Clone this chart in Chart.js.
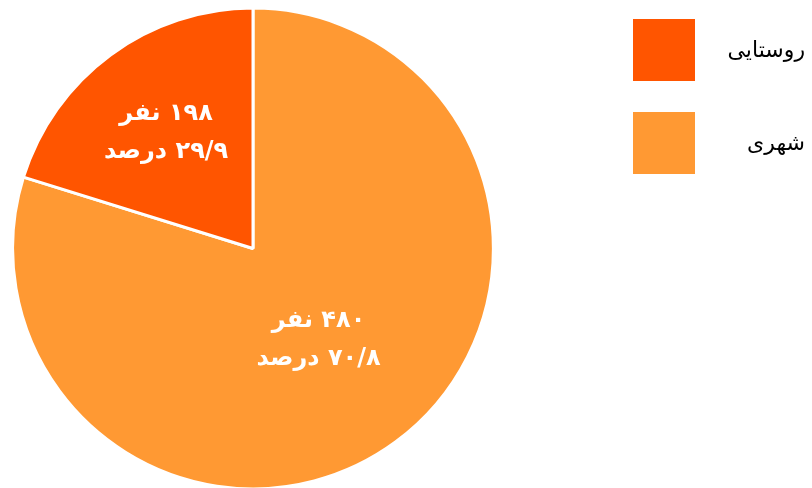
<!DOCTYPE html>
<html lang="fa">
<head>
<meta charset="utf-8">
<script src="https://cdn.jsdelivr.net/npm/chart.js@4/dist/chart.umd.min.js"></script>
<style>
  html, body { margin: 0; padding: 0; background: #fff; }
  .wrap { position: relative; width: 812px; height: 488px; }
  #legend { position: absolute; left: 633px; top: 19px; width: 172px; }
  .item { position: relative; height: 62px; margin-bottom: 31px; }
  .box { position: absolute; left: 0; top: 0; width: 62px; height: 62px; }
  .txt { position: absolute; right: 0; top: 18px; line-height: 30px; font: 22px "DejaVu Sans", sans-serif; color: #000; direction: rtl; }
</style>
</head>
<body>
<div class="wrap">
  <canvas id="chart" width="812" height="488"></canvas>
  <div id="legend"></div>
</div>
<script>
// slices in drawing order (clockwise from 12 o'clock)
const categories = ['شهری', 'روستایی'];
const sliceShare = [79.8, 20.2];          // share of the circle as drawn
const peopleLabels = ['۴۸۰', '۱۹۸'];
const percentLabels = ['۷۰/۸', '۲۹/۹'];
const colors = ['#FF9933', '#FF5500'];

// draws the two-line label inside every slice
const sliceLabels = {
  id: 'sliceLabels',
  afterDatasetsDraw(chart, args, opts) {
    const ctx = chart.ctx;
    const meta = chart.getDatasetMeta(0);
    ctx.save();
    ctx.fillStyle = '#fff';
    ctx.font = 'bold 24px "DejaVu Sans", sans-serif';
    ctx.textAlign = 'center';
    ctx.textBaseline = 'middle';
    ctx.direction = 'rtl';
    meta.data.forEach((arc, i) => {
      const p = arc.getProps(['x', 'y', 'startAngle', 'endAngle', 'outerRadius'], true);
      const mid = (p.startAngle + p.endAngle) / 2;
      const r = p.outerRadius * opts.radial[i];
      const x = p.x + Math.cos(mid) * r;
      const y = p.y + Math.sin(mid) * r;
      ctx.fillText(peopleLabels[i] + ' نفر', x, y - 17);
      ctx.fillText(percentLabels[i] + ' درصد', x, y + 21);
    });
    ctx.restore();
  }
};

new Chart(document.getElementById('chart'), {
  type: 'pie',
  data: {
    labels: categories,
    datasets: [{
      data: sliceShare,
      backgroundColor: colors,
      borderColor: '#fff',
      borderWidth: 3
    }]
  },
  options: {
    responsive: false,
    animation: false,
    radius: '101%',
    layout: { padding: { top: 9, bottom: 0, left: 0, right: 306 } },
    plugins: {
      legend: { display: false },
      tooltip: { enabled: false },
      sliceLabels: { radial: [0.46, 0.61] }
    }
  },
  plugins: [sliceLabels]
});

// legend on the right, rural first
const legend = document.getElementById('legend');
[1, 0].forEach(i => {
  const item = document.createElement('div');
  item.className = 'item';
  const box = document.createElement('div');
  box.className = 'box';
  box.style.background = colors[i];
  const txt = document.createElement('div');
  txt.className = 'txt';
  txt.textContent = categories[i];
  item.appendChild(box);
  item.appendChild(txt);
  legend.appendChild(item);
});
</script>
</body>
</html>
